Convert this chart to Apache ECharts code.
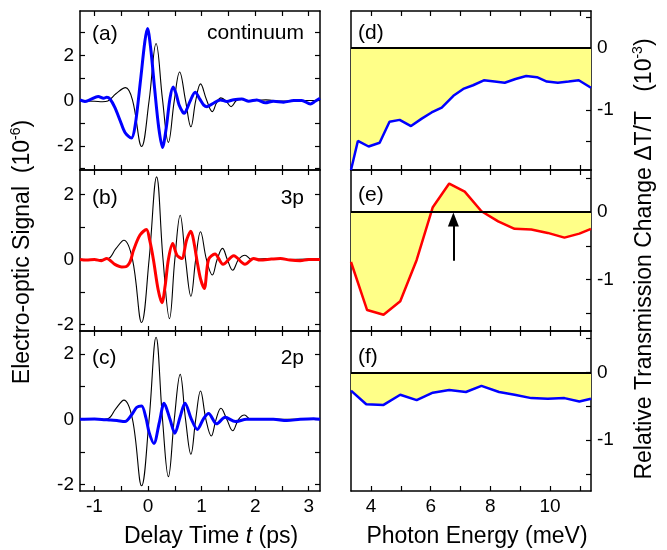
<!DOCTYPE html>
<html><head><meta charset="utf-8">
<script src="https://cdn.jsdelivr.net/npm/echarts@6/dist/echarts.min.js"></script>
<style>html,body{margin:0;padding:0;background:#fff}#c{width:667px;height:550px}</style>
</head><body><div id="c"></div>
<script>
// ---- data ----
const refA = [[-1.27,-0.02],[-1.0,-0.03],[-0.85,-0.05],[-0.75,-0.02],[-0.6,0.3],[-0.42,0.57],[-0.29,0.02],[-0.12,-2.03],[0.02,0],[0.15,2.52],[0.27,0.05],[0.38,-1.85],[0.49,0],[0.59,1.26],[0.70,0],[0.80,-1.16],[0.89,0],[0.98,0.74],[1.09,0.05],[1.20,-0.49],[1.28,-0.1],[1.36,0.12],[1.45,0],[1.55,-0.27],[1.65,0],[1.75,0.05],[1.9,0],[2.2,0.03],[2.5,-0.02],[2.9,0],[3.21,0]];
const sigA = [[-1.27,0.03],[-1.18,-0.04],[-1.08,0.04],[-0.93,0.18],[-0.83,0.1],[-0.77,0.15],[-0.71,0.07],[-0.62,-0.3],[-0.52,-0.89],[-0.43,-1.41],[-0.31,-1.66],[-0.24,-1.1],[-0.14,0.9],[-0.06,2.6],[-0.01,3.19],[0.05,2.3],[0.12,0.6],[0.2,-1.2],[0.27,-2.07],[0.34,-1.2],[0.41,0.1],[0.47,0.6],[0.53,0.25],[0.58,-0.2],[0.65,-0.52],[0.68,-0.56],[0.72,-0.4],[0.79,0],[0.88,0.37],[0.97,0.05],[1.04,-0.2],[1.10,-0.27],[1.22,-0.12],[1.35,0.03],[1.47,-0.04],[1.6,0.04],[1.75,0.07],[1.88,-0.03],[2.03,0.03],[2.19,-0.1],[2.34,-0.03],[2.53,-0.07],[2.72,0],[2.87,0],[3.03,-0.15],[3.12,-0.03],[3.21,0.1]];
const refB = [[-1.27,0],[-0.9,0],[-0.75,0.02],[-0.6,0.33],[-0.45,0.59],[-0.29,0],[-0.12,-1.94],[0.02,0],[0.16,2.54],[0.28,0],[0.40,-1.82],[0.50,0],[0.60,1.36],[0.70,0],[0.80,-1.13],[0.89,0],[0.98,0.85],[1.09,0],[1.20,-0.48],[1.29,0],[1.39,0.34],[1.48,0],[1.58,-0.33],[1.69,0],[1.81,0.13],[1.93,0],[2.2,0.03],[2.6,0],[3.0,0.01],[3.21,0]];
const sigB = [[-1.27,0],[-1.15,-0.02],[-1.0,0],[-0.87,-0.04],[-0.77,0.03],[-0.7,-0.04],[-0.62,-0.15],[-0.49,-0.23],[-0.41,-0.22],[-0.33,-0.05],[-0.27,0.29],[-0.15,0.75],[-0.03,0.92],[0.03,0.6],[0.10,0],[0.19,-0.94],[0.26,-1.33],[0.32,-0.8],[0.38,0],[0.46,0.49],[0.54,0.13],[0.63,0.03],[0.72,0.6],[0.80,0.87],[0.86,0.5],[0.91,0],[0.98,-0.6],[1.05,-0.89],[1.13,0],[1.25,0.17],[1.40,-0.15],[1.60,0.11],[1.81,-0.15],[1.97,0.03],[2.09,-0.02],[2.3,0.01],[2.47,0.03],[2.65,-0.02],[2.84,-0.04],[3.0,0],[3.21,0]];
const refC = [[-1.27,0],[-0.9,0],[-0.75,0.02],[-0.6,0.33],[-0.45,0.59],[-0.29,0],[-0.12,-2.04],[0.02,0],[0.15,2.52],[0.27,0],[0.38,-1.76],[0.49,0],[0.60,1.38],[0.70,0],[0.80,-1.07],[0.89,0],[0.98,0.87],[1.08,0],[1.18,-0.51],[1.27,0],[1.36,0.34],[1.47,0],[1.58,-0.35],[1.69,0],[1.80,0.13],[1.92,0],[2.2,0.02],[2.6,0],[3.0,0.01],[3.21,0]];
const sigC = [[-1.27,0],[-1.0,0.01],[-0.8,-0.01],[-0.7,-0.02],[-0.58,-0.04],[-0.43,-0.07],[-0.31,0.13],[-0.21,0.37],[-0.12,0.41],[-0.04,0.05],[0.02,-0.4],[0.11,-0.74],[0.21,-0.1],[0.30,0.49],[0.41,0.0],[0.50,-0.43],[0.60,0.08],[0.69,0.49],[0.81,0],[0.92,-0.31],[1.04,0.03],[1.13,0.18],[1.28,-0.14],[1.44,0.06],[1.63,-0.07],[1.84,0],[2.09,0],[2.34,0],[2.59,-0.04],[2.84,0],[3.09,0.02],[3.21,0]];
const specD = [[3.33,-1.97],[3.56,-1.50],[3.92,-1.59],[4.29,-1.53],[4.62,-1.19],[4.96,-1.16],[5.34,-1.26],[5.70,-1.14],[6.03,-1.04],[6.37,-0.96],[6.76,-0.77],[7.09,-0.66],[7.42,-0.60],[7.78,-0.52],[8.14,-0.54],[8.48,-0.56],[8.84,-0.50],[9.20,-0.45],[9.56,-0.47],[9.89,-0.54],[10.26,-0.56],[10.62,-0.54],[10.96,-0.52],[11.37,-0.64]];
const specE = [[3.33,-0.74],[3.87,-1.45],[4.42,-1.52],[4.98,-1.32],[5.53,-0.71],[6.07,0.07],[6.62,0.42],[7.14,0.30],[7.70,0.01],[8.26,-0.14],[8.81,-0.25],[9.37,-0.26],[9.92,-0.31],[10.48,-0.38],[10.98,-0.32],[11.37,-0.25]];
const specF = [[3.33,-0.27],[3.84,-0.47],[4.42,-0.48],[4.98,-0.33],[5.53,-0.41],[6.07,-0.30],[6.62,-0.26],[7.18,-0.29],[7.70,-0.20],[8.29,-0.29],[8.81,-0.33],[9.37,-0.38],[9.92,-0.39],[10.48,-0.38],[10.98,-0.43],[11.37,-0.39]];
const arrowE = [[6.76,-0.72],[6.76,-0.11]];
const tTicks = [-1,-0.5,0,0.5,1,1.5,2,2.5,3];
const tLabels = [-1,0,1,2,3];
const eTicks = [4,5,6,7,8,9,10,11];
const eLabels = [4,6,8,10];
const yTicksA = [-3,-2,-1,0,1,2,3];
const yTicksBC = [-2,-1,0,1,2];
const yLabelsL = [-2,0,2];
const yTicksR = [0.5,0,-0.5,-1,-1.5];
const yLabelsR = [0,-1];
const panelText = ['(a)','(b)','(c)','(d)','(e)','(f)'];
const stateText = ['continuum','3p','2p'];

// ---- layout ----
const F = "'Liberation Sans', Arial, sans-serif";
const tops = [11,170,331], heights = [159,161,160];
const yRangeL = [[-3.07,3.96],[-2.2,2.75],[-2.2,2.71]];
const yRangeR = [[-1.97,0.6],[-1.76,0.62],[-1.75,0.61]];
const grids = [], xAxes = [], yAxes = [], series = [];
const lineC = {color:'#000', width:1.5};
function ax(gi, pos, min, max, ticks, labels, showTicks, showLabels, isX) {
  return {type:'value', gridIndex:gi, position:pos, min, max,
    axisLine:{show:true, onZero:false, lineStyle:lineC},
    axisTick:{show:showTicks, inside:true, length:5, customValues:ticks, lineStyle:{color:'#000', width:1.2}},
    axisLabel:{show:showLabels, customValues:labels, margin:isX?6:6, color:'#000', fontSize:19, fontFamily:F},
    splitLine:{show:false}};
}
for (let i=0;i<3;i++){
  grids.push({left:80, width:240, top:tops[i], height:heights[i]});
  const gL = grids.length-1;
  xAxes.push(ax(gL,'bottom',-1.27,3.21,tTicks,tLabels,true,i===2,true));
  xAxes.push(ax(gL,'top',-1.27,3.21,tTicks,tLabels,true,false,true));
  const yt = i===0?yTicksA:yTicksBC;
  yAxes.push(ax(gL,'left',yRangeL[i][0],yRangeL[i][1],yt,yLabelsL,true,true,false));
  yAxes.push(ax(gL,'right',yRangeL[i][0],yRangeL[i][1],yt,yLabelsL,true,false,false));
}
for (let i=0;i<3;i++){
  grids.push({left:351, width:240, top:tops[i], height:heights[i]});
  const gR = grids.length-1;
  xAxes.push(ax(gR,'bottom',3.33,11.37,eTicks,eLabels,true,i===2,true));
  xAxes.push(ax(gR,'top',3.33,11.37,eTicks,eLabels,true,false,true));
  yAxes.push(ax(gR,'left',yRangeR[i][0],yRangeR[i][1],yTicksR,yLabelsR,false,false,false));
  yAxes.push(ax(gR,'right',yRangeR[i][0],yRangeR[i][1],yTicksR,yLabelsR,true,true,false));
}
const refs=[refA,refB,refC], sigs=[sigA,sigB,sigC], sigCol=['#0000ff','#ff0000','#0000ff'];
for (let i=0;i<3;i++){
  series.push({type:'line', xAxisIndex:2*i, yAxisIndex:2*i, data:refs[i], showSymbol:false, smooth:0.4, lineStyle:{color:'#000', width:1.1}, z:2, silent:true, animation:false});
  series.push({type:'line', xAxisIndex:2*i, yAxisIndex:2*i, data:sigs[i], showSymbol:false, smooth:0.3, lineStyle:{color:sigCol[i], width:3}, z:3, silent:true, animation:false});
}
const specs=[specD,specE,specF], specCol=['#0000ff','#ff0000','#0000ff'];
for (let i=0;i<3;i++){
  const k = 3+i;
  const ml = [{yAxis:0}];
  if (i===1) ml.push([{coord:arrowE[0], symbol:'none'},{coord:arrowE[1], symbol:'triangle', symbolSize:[11,14]}]);
  series.push({type:'line', xAxisIndex:2*k, yAxisIndex:2*k+1, data:specs[i], showSymbol:false,
    lineStyle:{color:specCol[i], width:2.5}, areaStyle:{color:'#ffff88', opacity:1}, z:3, silent:true, animation:false,
    markLine:{silent:true, symbol:'none', animation:false, label:{show:false}, lineStyle:{color:'#000', width:2, type:'solid'}, data:ml}});
}
// ---- texts ----
const graphic = [];
const labPos = [[92,34],[92,198],[92,358],[358,33],[358,195],[358,357]];
panelText.forEach((t,j)=>graphic.push({type:'text', x:labPos[j][0], y:labPos[j][1], style:{text:t, font:'21px '+F, fill:'#000', textAlign:'left', textVerticalAlign:'middle'}, z:10}));
const stPos = [[304,33],[304,198],[304,358]];
stateText.forEach((t,j)=>graphic.push({type:'text', x:stPos[j][0], y:stPos[j][1], style:{text:t, font:'21px '+F, fill:'#000', textAlign:'right', textVerticalAlign:'middle'}, z:10}));
graphic.push({type:'text', x:211, y:537, style:{text:'{n|Delay Time }{i|t}{n| (ps)}', textAlign:'center', textVerticalAlign:'middle', rich:{n:{fontSize:23, fontFamily:F, fill:'#000'}, i:{fontSize:23, fontFamily:F, fontStyle:'italic', fill:'#000'}}}});
graphic.push({type:'text', x:477, y:537, style:{text:'Photon Energy (meV)', font:'23px '+F, fill:'#000', textAlign:'center', textVerticalAlign:'middle'}});
graphic.push({type:'text', x:23, y:252, rotation:Math.PI/2, style:{text:'{n|Electro-optic Signal  (10}{s|-6}{n|)}', textAlign:'center', textVerticalAlign:'middle', rich:{n:{fontSize:23, fontFamily:F, fill:'#000', lineHeight:28}, s:{fontSize:14, fontFamily:F, fill:'#000', verticalAlign:'top', lineHeight:28, padding:[0,0,9,0]}}}});
graphic.push({type:'text', x:645, y:259, rotation:Math.PI/2, style:{text:'{n|Relative Transmission Change ΔT/T   (10}{s|-3}{n|)}', textAlign:'center', textVerticalAlign:'middle', rich:{n:{fontSize:23, fontFamily:F, fill:'#000', lineHeight:28}, s:{fontSize:14, fontFamily:F, fill:'#000', verticalAlign:'top', lineHeight:28, padding:[0,0,9,0]}}}});

const chart = echarts.init(document.getElementById('c'), null, {renderer:'canvas'});
chart.setOption({animation:false, backgroundColor:'#fff', grid:grids, xAxis:xAxes, yAxis:yAxes, series, graphic});
</script></body></html>
